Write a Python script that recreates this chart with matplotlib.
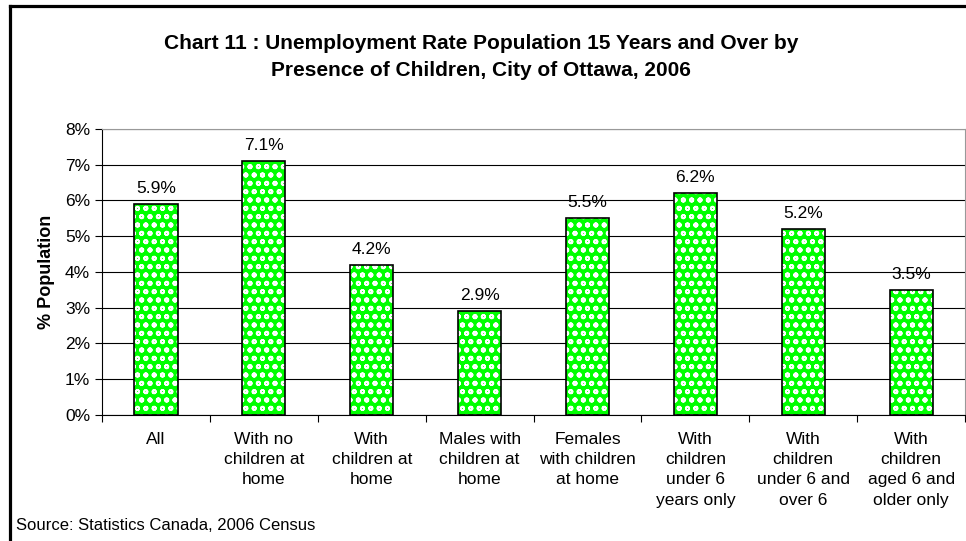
import matplotlib.pyplot as plt
from matplotlib.lines import Line2D
import numpy as np

plt.rcParams['font.family'] = ['Liberation Sans', 'DejaVu Sans']

# 범주와 값 (%)
categories = ['All', 'With no\nchildren at\nhome', 'With\nchildren at\nhome',
              'Males with\nchildren at\nhome', 'Females\nwith children\nat home',
              'With\nchildren\nunder 6\nyears only', 'With\nchildren\nunder 6 and\nover 6',
              'With\nchildren\naged 6 and\nolder only']
rates = [5.9, 7.1, 4.2, 2.9, 5.5, 6.2, 5.2, 3.5]
y_ticks = [0, 1, 2, 3, 4, 5, 6, 7, 8]

fig = plt.figure(figsize=(9.66, 5.41), dpi=100)
ax = fig.add_axes([0.1056, 0.2329, 0.8934, 0.5287])

x = np.arange(len(categories))
# 무늬 채우기 (녹색 바탕 + 흰 원 패턴)
plt.rcParams['hatch.linewidth'] = 1.3
ax.bar(x, rates, width=0.4, color='#00ff00', edgecolor='white', hatch='oo', linewidth=0, zorder=3)
ax.bar(x, rates, width=0.4, color='none', edgecolor='black', linewidth=1.2, zorder=4)

for xi, v in zip(x, rates):
    ax.annotate(f'{v:.1f}%', (xi, v), xytext=(0, 6), textcoords='offset points',
                ha='center', va='bottom', fontsize=12.5)

ax.set_xlim(-0.5, len(categories) - 0.5)
ax.set_ylim(0, 8)
ax.set_yticks(y_ticks)
ax.set_yticklabels([f'{t}%' for t in y_ticks], fontsize=12.5)
ax.yaxis.grid(True, color='black', linewidth=0.8, zorder=0)

ax.set_xticks(np.arange(len(categories) + 1) - 0.5)
ax.set_xticklabels([])
ax.set_xticks(x, minor=True)
ax.set_xticklabels(categories, minor=True, fontsize=12.5, linespacing=1.45, va='top')
ax.tick_params(axis='x', which='minor', length=0, pad=12)
ax.tick_params(axis='x', which='major', length=5, direction='out')
ax.tick_params(axis='y', length=5, direction='out')

ax.spines['top'].set_color('#999999')
ax.spines['right'].set_color('#999999')

ax.set_ylabel('% Population', fontsize=13, fontweight='bold', labelpad=7)

fig.text(0.498, 0.895, 'Chart 11 : Unemployment Rate Population 15 Years and Over by\n'
         'Presence of Children, City of Ottawa, 2006',
         ha='center', va='center', fontsize=15, fontweight='bold', linespacing=1.5)
fig.text(0.017, 0.029, 'Source: Statistics Canada, 2006 Census', fontsize=12, ha='left', va='center')

# 바깥 테두리
fig.add_artist(Line2D([0.0105, 0.0105], [0, 0.989], color='black', linewidth=2.3))
fig.add_artist(Line2D([0.0105, 1.0], [0.989, 0.989], color='black', linewidth=2.3))

fig.savefig('out.png', dpi=100)
